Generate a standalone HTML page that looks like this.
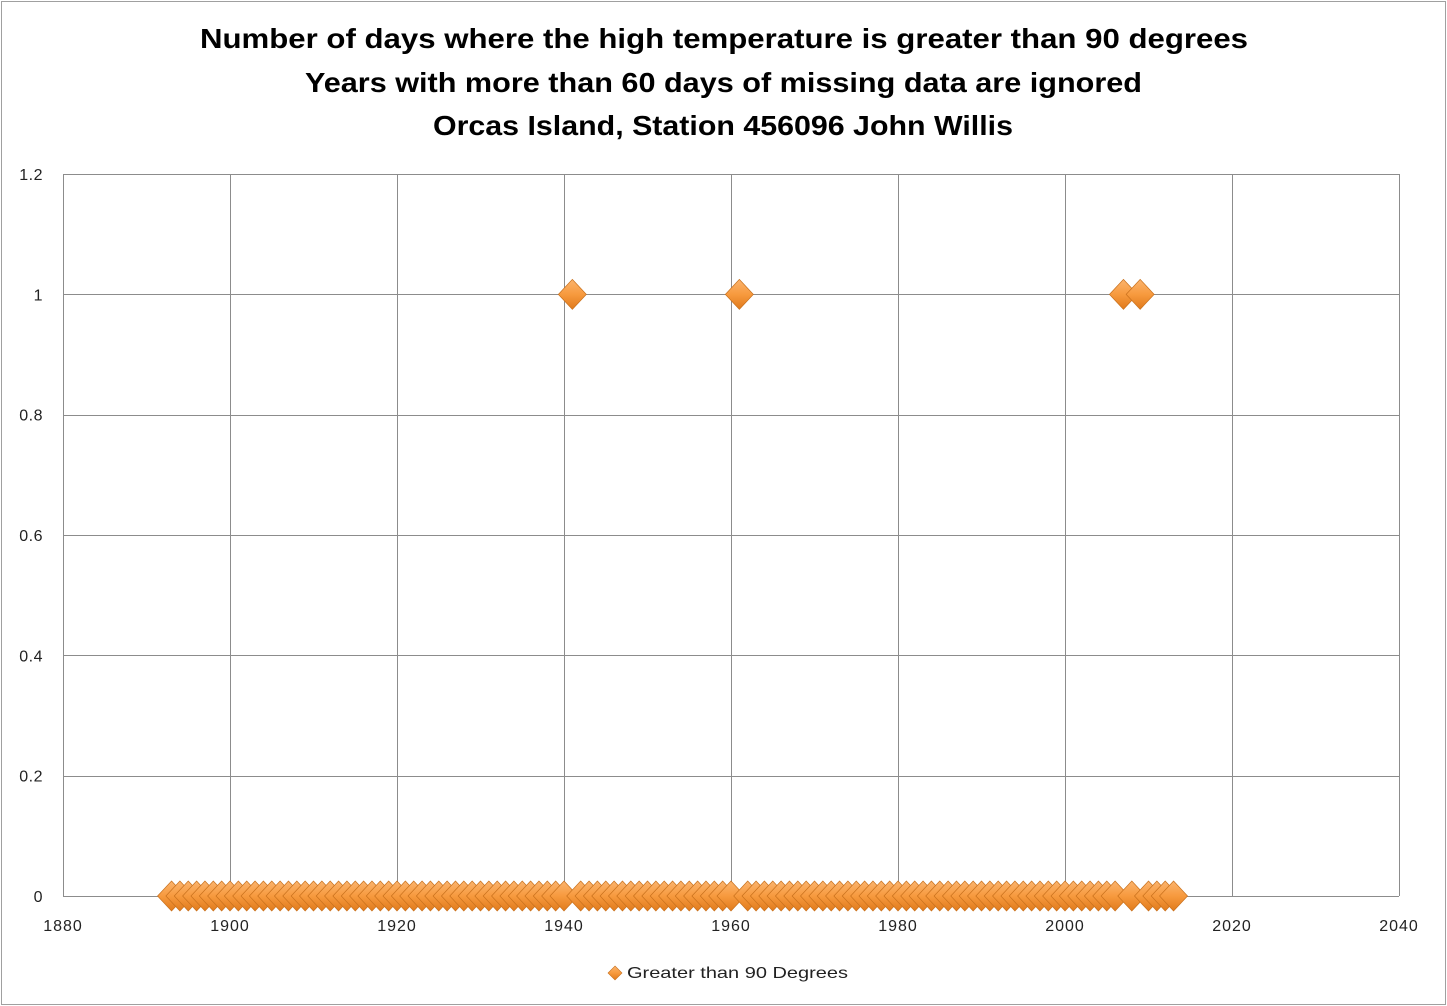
<!DOCTYPE html>
<html>
<head>
<meta charset="utf-8">
<style>
html,body{margin:0;padding:0;background:#fff;}
svg{display:block;}
text{font-family:"Liberation Sans",sans-serif;}
</style>
</head>
<body>
<svg id="chart" width="1447" height="1006" viewBox="0 0 1447 1006">
<defs>
<linearGradient id="dg" x1="0" y1="0" x2="0" y2="1">
<stop offset="0" stop-color="#fbb46e"/>
<stop offset="0.5" stop-color="#f79a3e"/>
<stop offset="1" stop-color="#e07a1c"/>
</linearGradient>
</defs>
<rect x="1.5" y="1.5" width="1444" height="1003" fill="#fff" stroke="#a0a0a0"/>
<g font-weight="bold" font-size="28" fill="#000">
<text x="200" y="48" textLength="1048" lengthAdjust="spacingAndGlyphs">Number of days where the high temperature is greater than 90 degrees</text>
<text x="305" y="92" textLength="837" lengthAdjust="spacingAndGlyphs">Years with more than 60 days of missing data are ignored</text>
<text x="433" y="135" textLength="580" lengthAdjust="spacingAndGlyphs">Orcas Island, Station 456096 John Willis</text>
</g>
<g id="grid"></g>
<g id="axes"></g>
<g id="marks"></g>
<g>
<path d="M615 966 L622 973 L615 980 L608 973 Z" fill="url(#dg)" stroke="#c8701c" stroke-width="0.6"/>
<text x="627" y="978" font-size="16" fill="#222" textLength="221" lengthAdjust="spacingAndGlyphs">Greater than 90 Degrees</text>
</g>
</svg>
<script>
const xTicks = [1880,1900,1920,1940,1960,1980,2000,2020,2040];
const yTicks = [0,0.2,0.4,0.6,0.8,1,1.2];
const yTickLabels = ["0","0.2","0.4","0.6","0.8","1","1.2"];
const yearsOne = [1941,1961,2007,2009];
const valuesOne = [1,1,1,1];
const yearsZero = [1893,1894,1895,1896,1897,1898,1899,1900,1901,1902,1903,1904,1905,1906,1907,1908,1909,1910,1911,1912,1913,1914,1915,1916,1917,1918,1919,1920,1921,1922,1923,1924,1925,1926,1927,1928,1929,1930,1931,1932,1933,1934,1935,1936,1937,1938,1939,1940,1942,1943,1944,1945,1946,1947,1948,1949,1950,1951,1952,1953,1954,1955,1956,1957,1958,1959,1960,1962,1963,1964,1965,1966,1967,1968,1969,1970,1971,1972,1973,1974,1975,1976,1977,1978,1979,1980,1981,1982,1983,1984,1985,1986,1987,1988,1989,1990,1991,1992,1993,1994,1995,1996,1997,1998,1999,2000,2001,2002,2003,2004,2005,2006,2008,2010,2011,2012,2013];

const L=63,R=1399,T=174,B=896;
const xMin=1880,xMax=2040,yMin=0,yMax=1.2;
function xs(v){return L+(v-xMin)/(xMax-xMin)*(R-L);}
function ys(v){return B-(v-yMin)/(yMax-yMin)*(B-T);}
const NS="http://www.w3.org/2000/svg";
function mk(tag,attrs,parent){const e=document.createElementNS(NS,tag);for(const k in attrs)e.setAttribute(k,attrs[k]);parent.appendChild(e);return e;}
const grid=document.getElementById('grid'),axes=document.getElementById('axes'),marks=document.getElementById('marks');
xTicks.forEach(t=>{
  const x=Math.round(xs(t))+0.5;
  const ln=mk('line',{x1:x,x2:x,y1:T,y2:B,stroke:'#8c8c8c','stroke-width':1},grid);
  
  
  const tx=mk('text',{x:xs(t),y:931,'font-size':16,'text-anchor':'middle',fill:'#222','letter-spacing':1},axes);
  tx.textContent=t;
  
  
});
yTicks.forEach((t,i)=>{
  const y=Math.round(ys(t))+0.5;
  const ln=mk('line',{x1:L,x2:R,y1:y,y2:y,stroke:'#8c8c8c','stroke-width':1},grid);
  
  
  const tx=mk('text',{x:43,y:ys(t)+6,'font-size':16,'text-anchor':'end',fill:'#222','letter-spacing':0.5},axes);
  tx.textContent=yTickLabels[i];
  
  
});
function diamond(cx,cy){
  const w=14,h=15;
  const p=mk('path',{d:`M${cx} ${cy-h} L${cx+w} ${cy} L${cx} ${cy+h} L${cx-w} ${cy} Z`,fill:'url(#dg)',stroke:'#c8701c','stroke-width':0.7},marks);
  
  
}
yearsZero.forEach(yr=>diamond(xs(yr),ys(0)));
yearsOne.forEach((yr,i)=>diamond(xs(yr),ys(valuesOne[i])));
</script>
</body>
</html>
